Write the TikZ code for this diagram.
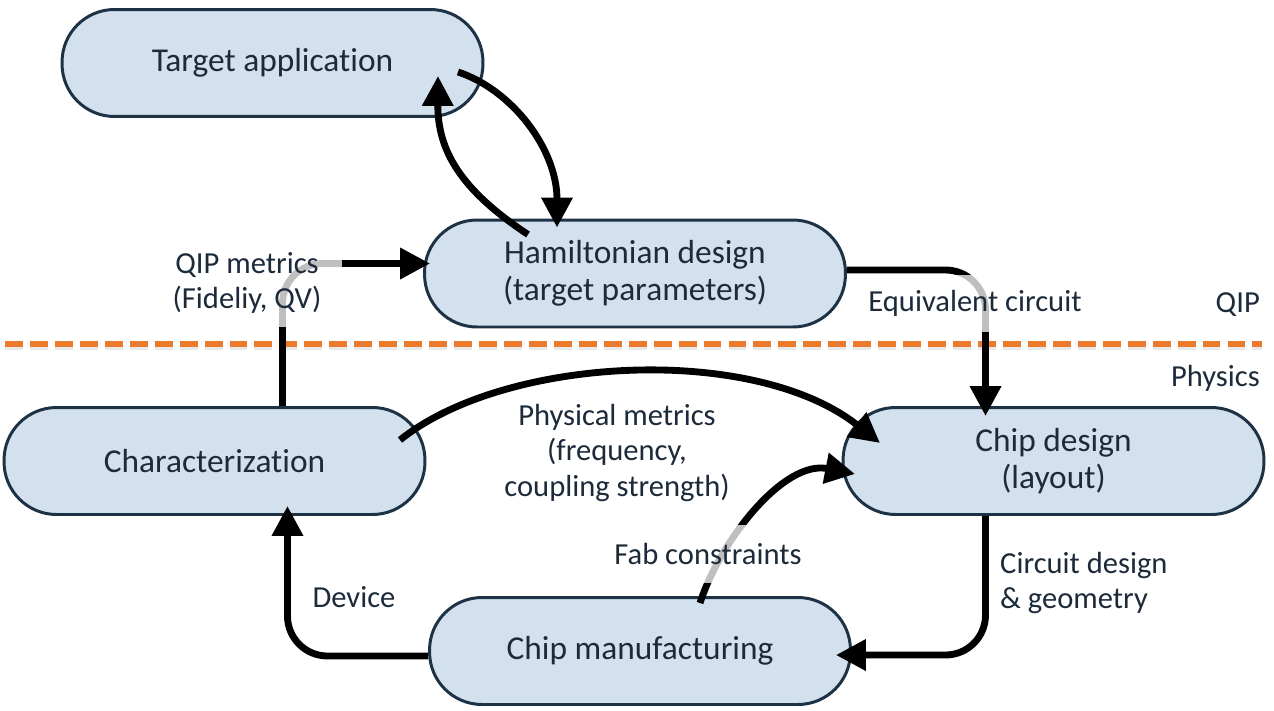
\documentclass[tikz,border=0pt]{standalone}
\usepackage{fontspec}
\setmainfont{Carlito}[Ligatures={NoCommon,NoRare}]
\usetikzlibrary{arrows.meta}
\definecolor{nodefill}{HTML}{D3E1EF}
\definecolor{nodeline}{HTML}{1E3246}
\definecolor{txt}{HTML}{1C2A3A}
\definecolor{dashorange}{HTML}{EB7A2C}
\begin{document}
\begin{tikzpicture}[x=0.02cm,y=-0.02cm,
  box/.style={draw=nodeline, line width=1.7pt, fill=nodefill, rounded corners=1.05cm,
    minimum width=8.42cm, minimum height=2.14cm, text=txt,
    font=\fontsize{19}{21}\selectfont, align=center},
  arr/.style={line width=3.9pt, -{Triangle[length=17pt,width=17pt]}},
  lbl/.style={text=txt, font=\fontsize{17.4}{20}\selectfont, align=center},
  veil/.style={lbl, fill=white, fill opacity=0.75, text opacity=1, inner sep=0pt},
  divider/.style={line width=3.4pt, dash pattern=on 10.2pt off 4pt}
]
\useasboundingbox (0,0) rectangle (1274,710);

% divider
\coordinate (dl) at (5,344);
\coordinate (dr) at (1262,344);
\draw[divider, black!18, opacity=0.5] ([yshift=-0.07cm]dl) -- ([yshift=-0.07cm]dr);
\draw[divider, dashorange] (dl) -- (dr);

% nodes
\node[box] (target) at (272.5,63) {Target application};
\node[box] (ham) at (635,273.5) {Hamiltonian design\\(target parameters)};
\node[box] (char) at (214.5,461) {Characterization};
\node[box] (chip) at (1053.5,461) {Chip design\\(layout)};
\node[box] (manu) at (640,651) {Chip manufacturing};

% connectors
\draw[arr] ([shift={(185.5,9)}]target.center) .. controls ([shift={(240,27)}]target.center) and ([shift={(-78,-124)}]ham.center) .. ([shift={(-78,-46)}]ham.center);
\draw[arr] ([shift={(-107,-39)}]ham.center) .. controls ([shift={(-175,-84)}]ham.center) and ([shift={(165,87)}]target.center) .. ([shift={(165.5,13)}]target.center);
\draw[arr, rounded corners=0.8cm] ([xshift=1.36cm]char.north) |- ([xshift=0.14cm,yshift=0.2cm]ham.west);
\draw[arr, rounded corners=0.8cm] ([yshift=0.07cm]ham.east) -| ([xshift=-1.36cm,yshift=-0.2cm]chip.north);
\draw[arr] ([shift={(185.5,-21)}]char.center) .. controls ([shift={(290,-105)}]char.center) and ([shift={(-300,-118)}]chip.center) .. ([shift={(-173.5,-18)}]chip.center);
\draw[arr] ([shift={(60,-48)}]manu.center) .. controls ([shift={(80,-110)}]manu.center) and ([shift={(-270,-1)}]chip.center) .. ([shift={(-198.5,13)}]chip.center);
\draw[arr, rounded corners=0.8cm] ([xshift=-1.36cm]chip.south) |- ([xshift=-0.32cm,yshift=-0.08cm]manu.east);
\draw[arr, rounded corners=0.8cm] ([yshift=-0.1cm]manu.west) -| ([xshift=1.46cm,yshift=0.2cm]char.south);

% labels
\node[veil, minimum width=3.8cm, minimum height=1.76cm] (qipm) at (247,283) {QIP metrics\\(Fideliy, QV)};
\node[veil, minimum width=5cm, minimum height=1.14cm] (equiv) at (975,303.5) {Equivalent circuit};
\node[veil, minimum width=4.2cm, minimum height=1.16cm] (fab) at (708,554) {Fab constraints};
\node[lbl] (phys) at (617,453) {Physical metrics\\(frequency,\\coupling strength)};
\node[lbl] (device) at (354,597) {Device};
\node[lbl, anchor=west, align=left] (circ) at (994,583) {Circuit design\\\& geometry};
\node[lbl, anchor=east] (qip) at (1266,305) {QIP};
\node[lbl, anchor=east] (physics) at (1266,378) {Physics};
\end{tikzpicture}
\end{document}
